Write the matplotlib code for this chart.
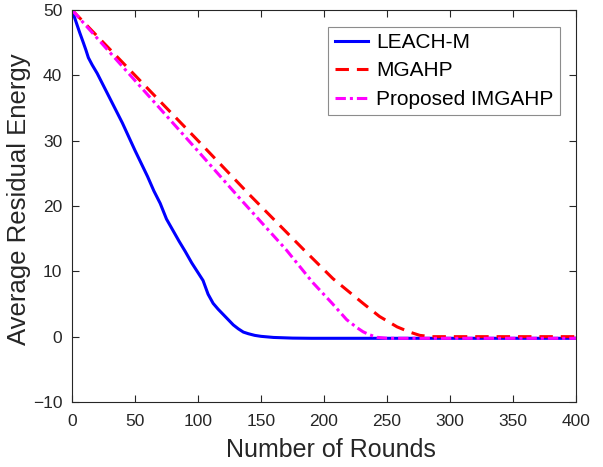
import numpy as np
import matplotlib
matplotlib.use("Agg")
import matplotlib.pyplot as plt

plt.rcParams['font.family'] = ['Liberation Sans', 'DejaVu Sans']

# values
leach_x = [0, 3, 6, 9, 11, 13, 16, 20, 25, 30, 35, 40, 45, 50, 55, 60, 65, 70,
           75, 80, 85, 90, 95, 100, 104, 108, 112, 116, 120, 124, 128, 132,
           136, 140, 145, 150, 160, 175, 190, 400]
leach_y = [50, 48.3, 46.6, 45.0, 43.9, 42.7, 41.6, 40.3, 38.4, 36.5, 34.6, 32.7,
           30.6, 28.5, 26.5, 24.5, 22.3, 20.4, 18.0, 16.3, 14.6, 13.0, 11.3, 9.8,
           8.6, 6.5, 5.1, 4.2, 3.4, 2.6, 1.8, 1.2, 0.7, 0.45, 0.2, 0.05, -0.12,
           -0.22, -0.25, -0.25]

mgahp_x = [0, 50, 100, 141, 184, 207, 231, 244, 258, 268, 276, 285, 400]
mgahp_y = [50, 40.0, 30.0, 21.7, 13.3, 8.9, 5.1, 3.1, 1.5, 0.7, 0.2, 0.0, 0.0]

imgahp_x = [0, 50, 100, 133, 170, 191, 206, 218, 226, 231, 236, 242, 250, 400]
imgahp_y = [50, 39.2, 28.4, 21.2, 13.3, 8.3, 5.2, 2.6, 1.4, 0.75, 0.3, -0.1,
            -0.25, -0.25]

x_ticks = [0, 50, 100, 150, 200, 250, 300, 350, 400]
y_ticks = [-10, 0, 10, 20, 30, 40, 50]

axis_col = "#262626"

fig = plt.figure(figsize=(6.03, 4.67), dpi=100)
ax = fig.add_axes([72 / 603, 65 / 467, 504 / 603, 392 / 467])

ax.plot(leach_x, leach_y, color="#0000ff", linewidth=2.2, label="LEACH-M")
ax.plot(mgahp_x, mgahp_y, color="#ff0000", linewidth=2.2,
        linestyle=(0, (4.4, 2.6)), label="MGAHP")
ax.plot(imgahp_x, imgahp_y, color="#ff00ff", linewidth=2.2,
        linestyle=(0, (3.4, 1.3, 1.0, 1.3)), label="Proposed IMGAHP")

ax.set_xlim(0, 400)
ax.set_ylim(-10, 50)
ax.set_xticks(x_ticks)
ax.set_yticks(y_ticks)
ax.tick_params(direction="in", top=True, right=True, length=5, width=0.8,
               colors=axis_col, labelsize=12.5)
ax.tick_params(axis="x", pad=9)
ax.tick_params(axis="y", pad=7)
for sp in ax.spines.values():
    sp.set_color(axis_col)
    sp.set_linewidth(0.8)

ax.set_xlabel("Number of Rounds", fontsize=18, color=axis_col)
ax.set_ylabel("Average Residual Energy", fontsize=18.5, color=axis_col)
ax.xaxis.set_label_coords(0.513, -0.092)
ax.yaxis.set_label_coords(-0.082, 0.518)

leg = ax.legend(loc="upper right", bbox_to_anchor=(0.968, 0.957),
                borderaxespad=0, fontsize=15, fancybox=False, framealpha=1,
                edgecolor="#8c8c8c", handlelength=1.6, handletextpad=0.4,
                labelspacing=0.45, borderpad=0.3)
leg.get_frame().set_linewidth(0.8)

fig.savefig("out.png", dpi=100)
